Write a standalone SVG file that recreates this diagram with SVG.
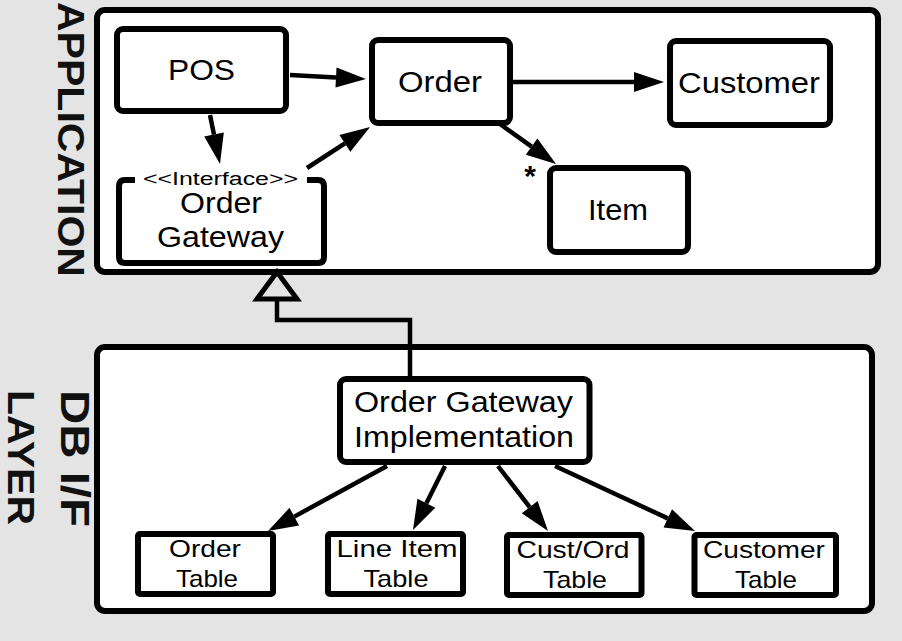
<svg xmlns="http://www.w3.org/2000/svg" width="902" height="641" viewBox="0 0 902 641">
<style>
  .bg { fill: #e4e4e4; }
  .box { fill: #ffffff; stroke: #000000; stroke-width: 6; }
  .frame { fill: #ffffff; stroke: #000000; stroke-width: 6; }
  .edge { fill: none; stroke: #000000; stroke-width: 4.5; }
  .lbl { font-family: "Liberation Sans", Arial, Helvetica, sans-serif; fill: #000000; text-anchor: middle; }
  .big { font-size: 29px; }
  .tbl { font-size: 24px; }
  .small { font-size: 18px; }
  .layer { font-family: "Liberation Sans", Arial, Helvetica, sans-serif; font-weight: bold; fill: #111111; }
</style>
<defs>
  <marker id="head" viewBox="0 -10 30 20" markerWidth="30" markerHeight="20" refX="0" refY="0" orient="auto" markerUnits="userSpaceOnUse" overflow="visible">
    <path d="M0,-10 L30,0 L0,10 z" fill="#000000"/>
  </marker>
</defs>
<rect class="bg" x="0" y="0" width="902" height="641"/>

<g id="application-layer">
  <rect class="frame" x="97" y="10" width="781" height="262" rx="8"/>
  <text class="layer" font-size="37" transform="translate(58,2) rotate(90)" textLength="275" lengthAdjust="spacingAndGlyphs">APPLICATION</text>
</g>
<g id="db-layer">
  <rect class="frame" x="97" y="347" width="775" height="264" rx="8"/>
  <text class="layer" font-size="40" transform="translate(61,390) rotate(90)" textLength="137" lengthAdjust="spacingAndGlyphs">DB I/F</text>
  <text class="layer" font-size="37" transform="translate(8,390) rotate(90)" textLength="135" lengthAdjust="spacingAndGlyphs">LAYER</text>
</g>

<g id="pos">
  <rect class="box" x="117" y="29" width="169" height="82" rx="6"/>
  <text class="lbl big" x="201.5" y="80" textLength="67" lengthAdjust="spacingAndGlyphs">POS</text>
</g>
<g id="order">
  <rect class="box" x="372" y="40" width="138" height="83" rx="6"/>
  <text class="lbl big" x="440" y="92" textLength="84" lengthAdjust="spacingAndGlyphs">Order</text>
</g>
<g id="customer">
  <rect class="box" x="670" y="41" width="160" height="84" rx="6"/>
  <text class="lbl big" x="749" y="93" textLength="142" lengthAdjust="spacingAndGlyphs">Customer</text>
</g>
<g id="item">
  <rect class="box" x="550" y="168" width="138" height="84" rx="6"/>
  <text class="lbl big" x="618" y="220" textLength="60" lengthAdjust="spacingAndGlyphs">Item</text>
</g>
<g id="order-gateway">
  <path class="box" d="M135,180 H125 Q119,180 119,186 V257 Q119,263 125,263 H318 Q324,263 324,257 V186 Q324,180 318,180 H307"/>
  <text class="lbl small" x="220.5" y="185" textLength="155" lengthAdjust="spacingAndGlyphs">&lt;&lt;Interface&gt;&gt;</text>
  <text class="lbl big" x="221" y="213" textLength="82" lengthAdjust="spacingAndGlyphs">Order</text>
  <text class="lbl big" x="220.5" y="247" textLength="127" lengthAdjust="spacingAndGlyphs">Gateway</text>
</g>
<g id="order-gateway-impl">
  <rect class="box" x="340" y="379" width="249.5" height="83" rx="6"/>
  <text class="lbl big" x="463.5" y="412" textLength="219" lengthAdjust="spacingAndGlyphs">Order Gateway</text>
  <text class="lbl big" x="464" y="447" textLength="220" lengthAdjust="spacingAndGlyphs">Implementation</text>
</g>
<g id="order-table">
  <rect class="box" x="138" y="534" width="135" height="60" rx="2"/>
  <text class="lbl tbl" x="205" y="557" textLength="72" lengthAdjust="spacingAndGlyphs">Order</text>
  <text class="lbl tbl" x="207" y="587" textLength="62" lengthAdjust="spacingAndGlyphs">Table</text>
</g>
<g id="line-item-table">
  <rect class="box" x="328" y="534" width="135" height="60" rx="2"/>
  <text class="lbl tbl" x="397" y="557" textLength="121" lengthAdjust="spacingAndGlyphs">Line Item</text>
  <text class="lbl tbl" x="396" y="587" textLength="65" lengthAdjust="spacingAndGlyphs">Table</text>
</g>
<g id="cust-ord-table">
  <rect class="box" x="507" y="535" width="134.5" height="60" rx="2"/>
  <text class="lbl tbl" x="573" y="558" textLength="113" lengthAdjust="spacingAndGlyphs">Cust/Ord</text>
  <text class="lbl tbl" x="575" y="588" textLength="64" lengthAdjust="spacingAndGlyphs">Table</text>
</g>
<g id="customer-table">
  <rect class="box" x="694.5" y="535" width="141.5" height="60" rx="2"/>
  <text class="lbl tbl" x="764" y="558" textLength="122" lengthAdjust="spacingAndGlyphs">Customer</text>
  <text class="lbl tbl" x="766" y="588" textLength="62" lengthAdjust="spacingAndGlyphs">Table</text>
</g>

<g id="connectors">
  <line class="edge" x1="290" y1="75" x2="336" y2="77.4" marker-end="url(#head)"/>
  <line class="edge" x1="210" y1="115" x2="214" y2="134.6" marker-end="url(#head)"/>
  <line class="edge" x1="307" y1="168" x2="344.9" y2="143.4" marker-end="url(#head)"/>
  <line class="edge" x1="513" y1="82" x2="634" y2="82" marker-end="url(#head)"/>
  <line class="edge" x1="500" y1="124" x2="531.6" y2="146.6" marker-end="url(#head)"/>
  <text class="lbl" font-size="30" font-weight="bold" x="530" y="186">*</text>
  <line class="edge" x1="387" y1="466" x2="294.3" y2="516.6" marker-end="url(#head)"/>
  <line class="edge" x1="445" y1="466" x2="426.4" y2="503.2" marker-end="url(#head)"/>
  <line class="edge" x1="498" y1="466" x2="529.7" y2="507.2" marker-end="url(#head)"/>
  <line class="edge" x1="555" y1="466" x2="667.8" y2="518.4" marker-end="url(#head)"/>
  <path class="edge" stroke-width="5" d="M277,299 V320 H410 V377"/>
  <polygon points="277,272 257,299 297,299" fill="#e4e4e4" stroke="#000000" stroke-width="5" stroke-linejoin="miter"/>
</g>
</svg>
